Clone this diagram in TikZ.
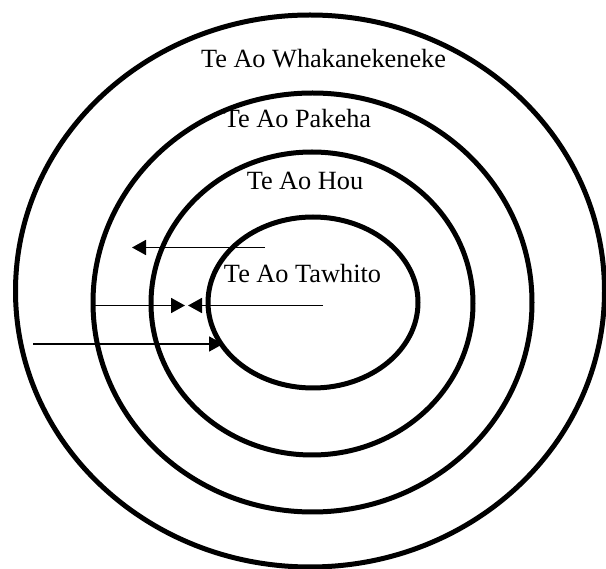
\documentclass[tikz,border=0pt]{standalone}
\usepackage{fontspec}
\setmainfont{Liberation Serif}
\usetikzlibrary{arrows.meta,shapes.geometric}
\newcommand{\worldfont}{\fontsize{26.3}{30}\selectfont}
\tikzset{
  ring/.style={ellipse,draw,line width=5pt,inner sep=0pt},
  worldlabel/.style={font=\worldfont,inner sep=0pt,anchor=base},
  flow/.style={line width=1.8pt,-{Triangle[length=14pt,width=15pt]}}
}

\begin{document}
\begin{tikzpicture}[x=1pt,y=-1pt]
  \useasboundingbox (0,0) rectangle (606,569);

  \node[ring,minimum width=589pt,minimum height=552pt] (whakanekeneke) at (310,291) {};
  \node[ring,minimum width=439pt,minimum height=419pt] (pakeha) at (312.5,302.5) {};
  \node[ring,minimum width=322pt,minimum height=303pt] (hou) at (312,303.5) {};
  \node[ring,minimum width=210pt,minimum height=171pt] (tawhito) at (313,302.5) {};

  \node[worldlabel] (whakanekeneke text) at (323.5,68) {Te Ao Whakanekeneke};
  \node[worldlabel] (pakeha text) at (297.5,128) {Te Ao Pakeha};
  \node[worldlabel] (hou text) at (305,190) {Te Ao Hou};
  \node[worldlabel] (tawhito text) at (302.5,283) {Te Ao Tawhito};

  \coordinate (out from) at (265,247.5);
  \coordinate (out to) at (132,247.5);
  \coordinate (in from) at (95,305.5);
  \coordinate (in to) at (185,305.5);
  \coordinate (back from) at (323,305.5);
  \coordinate (back to) at (188,305.5);
  \coordinate (deep from) at (33,344);
  \coordinate (deep to) at (223,344);

  \draw[flow] (out from) -- (out to);
  \draw[flow] (in from) -- (in to);
  \draw[flow] (back from) -- (back to);
  \draw[flow] (deep from) -- (deep to);
\end{tikzpicture}
\end{document}
